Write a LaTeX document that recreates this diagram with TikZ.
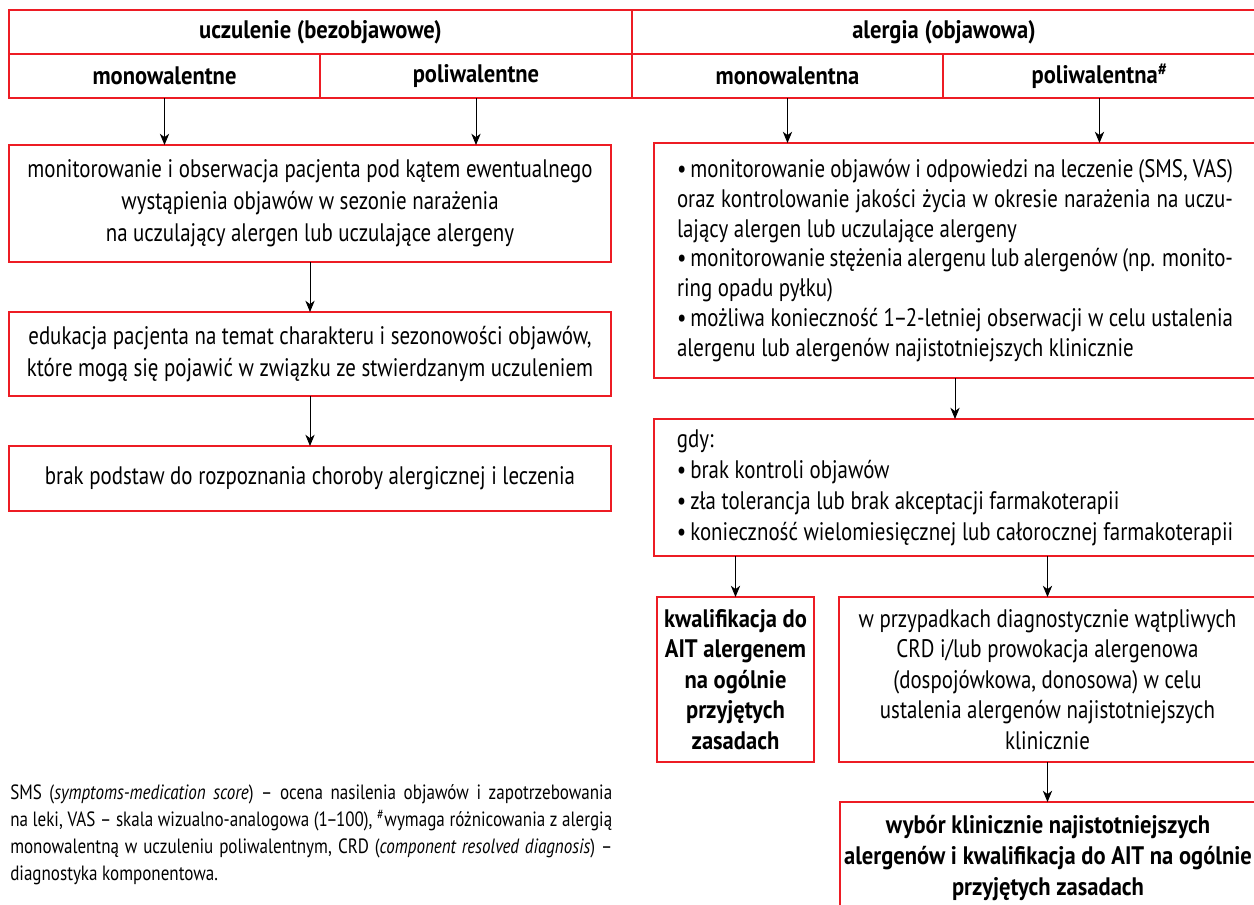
\documentclass[tikz,border=0pt]{standalone}
\usepackage{fontspec}
\setmainfont{PT Sans}[FakeStretch=0.825]
\newfontfamily\hbf{PT Sans}[FakeStretch=0.89]
\usetikzlibrary{arrows.meta}
\definecolor{boxred}{RGB}{237,28,36}
\newcommand{\ppx}{0.75pt}
\newcommand{\hfont}{\fontsize{19pt}{22pt}\selectfont\hbf\bfseries}
\newcommand{\lfont}{\fontsize{19pt}{24pt}\selectfont}
\newcommand{\rfont}{\fontsize{19pt}{22.3pt}\selectfont}
\newcommand{\gfont}{\fontsize{19pt}{23.2pt}\selectfont}
\newcommand{\cfont}{\fontsize{19pt}{22.9pt}\selectfont}
\newcommand{\bfont}{\fontsize{19pt}{22.9pt}\selectfont\hbf\bfseries}
\newcommand{\ffont}{\fontsize{15.5pt}{20.25pt}\selectfont}
\newlength{\rwidth}\setlength{\rwidth}{417pt}
\newlength{\fwidth}\setlength{\fwidth}{451.5pt}
\newcommand{\jline}[1]{\makebox[\rwidth][s]{#1}}
\newcommand{\fline}[1]{\makebox[\fwidth][s]{#1}}
\newcommand{\bul}{•\kern3pt}
\newcommand{\ndash}{\kern-1.2pt–\kern-1.2pt}
\begin{document}
\begin{tikzpicture}[x=0.75pt,y=-0.75pt,
  cell/.style={draw=boxred, line width=0.9pt, inner sep=0pt, outer sep=0pt, anchor=north west, font=\hfont},
  box/.style={draw=boxred, line width=0.9pt, inner sep=0pt, outer sep=0pt, anchor=north west, align=center},
  arr/.style={-{Stealth[length=8.5pt,width=7pt,inset=2.6pt]}, line width=0.7pt, black}
]
\useasboundingbox (0,0) rectangle (1254,904);
\clip (0,0) rectangle (1254,904);

% header table
\node[cell, minimum width=623*\ppx, minimum height=44*\ppx] (h1) at (9,10) {uczulenie (bezobjawowe)};
\node[cell, minimum width=624*\ppx, minimum height=44*\ppx] (h2) at (632,10) {alergia (objawowa)};
\node[cell, minimum width=311*\ppx, minimum height=44*\ppx] (m1) at (9,54) {monowalentne};
\node[cell, minimum width=312*\ppx, minimum height=44*\ppx] (m2) at (320,54) {poliwalentne};
\node[cell, minimum width=311*\ppx, minimum height=44*\ppx] (m3) at (632,54) {monowalentna};
\node[cell, minimum width=313*\ppx, minimum height=44*\ppx] (m4) at (943,54) {poliwalentna\textsuperscript{\#}};

% left column
\node[box, font=\lfont, minimum width=602*\ppx, minimum height=117*\ppx] (b1) at (9,145)
  {monitorowanie i obserwacja pacjenta pod kątem ewentualnego\\ wystąpienia objawów w sezonie narażenia\\ na uczulający alergen lub uczulające alergeny};
\node[box, font=\lfont, minimum width=602*\ppx, minimum height=84*\ppx] (b2) at (9,312)
  {edukacja pacjenta na temat charakteru i sezonowości objawów,\\ które mogą się pojawić w związku ze stwierdzanym uczuleniem};
\node[box, font=\lfont, minimum width=602*\ppx, minimum height=65*\ppx] (b3) at (9,446)
  {brak podstaw do rozpoznania choroby alergicznej i leczenia};

% right column
\node[box, font=\rfont, align=left, minimum width=602*\ppx, minimum height=235*\ppx] (r1) at (654,143)
  {\jline{\bul monitorowanie objawów i odpowiedzi na leczenie (SMS, VAS)}\\
   \jline{oraz kontrolowanie jakości życia w okresie narażenia na uczu-}\\
   lający alergen lub uczulające alergeny\\
   \jline{\bul monitorowanie stężenia alergenu lub alergenów (np. monito-}\\
   ring opadu pyłku)\\
   \jline{\bul możliwa konieczność 1\ndash2-letniej obserwacji w celu ustalenia}\\
   alergenu lub alergenów najistotniejszych klinicznie};
\node[box, font=\gfont, align=left, minimum width=602*\ppx, minimum height=137*\ppx] (g) at (654,419)
  {gdy:\\
   \bul brak kontroli objawów\\
   \bul zła tolerancja lub brak akceptacji farmakoterapii\\
   \bul konieczność wielomiesięcznej lub całorocznej farmakoterapii};
\node[box, font=\bfont, minimum width=157*\ppx, minimum height=165*\ppx] (kw) at (657,597)
  {kwalifikacja do\\ AIT alergenem\\ na ogólnie\\ przyjętych\\ zasadach};
\node[box, font=\cfont, minimum width=417*\ppx, minimum height=165*\ppx] (crd) at (839,597)
  {w przypadkach diagnostycznie wątpliwych\\ CRD i/lub prowokacja alergenowa\\ (dospojówkowa, donosowa) w celu\\ ustalenia alergenów najistotniejszych\\ klinicznie};
\node[box, font=\bfont, minimum width=416*\ppx, minimum height=112*\ppx] (wb) at (840,802)
  {wybór klinicznie najistotniejszych\\ alergenów i kwalifikacja do AIT na ogólnie\\ przyjętych zasadach};

% footnote
\node[anchor=north west, inner sep=0pt, align=left, font=\ffont] (fn) at (10,784)
  {\fline{SMS (\textit{symptoms-medication score}) – ocena nasilenia objawów i zapotrzebowania}\\
   \fline{na leki, VAS – skala wizualno-analogowa (1\ndash100), \textsuperscript{\#}wymaga różnicowania z alergią}\\
   \fline{monowalentną w uczuleniu poliwalentnym, CRD (\textit{component resolved diagnosis}) –}\\
   diagnostyka komponentowa.};

% connectors
\draw[arr] (m1.south) -- (m1.south |- b1.north);
\draw[arr] (m2.south) -- (m2.south |- b1.north);
\draw[arr] (m3.south) -- (m3.south |- r1.north);
\draw[arr] (m4.south) -- (m4.south |- r1.north);
\draw[arr] (b1.south) -- (b2.north);
\draw[arr] (b2.south) -- (b3.north);
\draw[arr] (r1.south) -- (g.north);
\draw[arr] (kw.north |- g.south) -- (kw.north);
\draw[arr] (crd.north |- g.south) -- (crd.north);
\draw[arr] (crd.south) -- (crd.south |- wb.north);
\end{tikzpicture}
\end{document}
